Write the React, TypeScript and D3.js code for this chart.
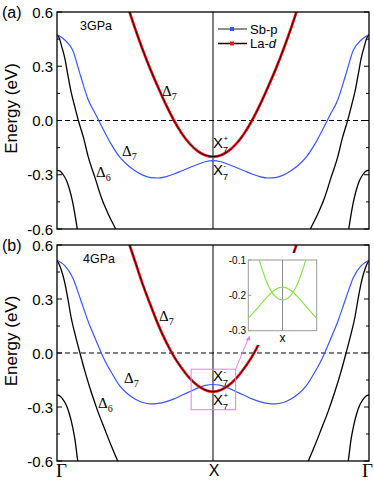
import React from "react";
import * as d3 from "d3";

// k runs Γ(0) -> X(1) -> Γ(2); bands are symmetric about X, so only the Γ–X half is listed
const kBlue = [0, 0.05, 0.1, 0.15, 0.2, 0.25, 0.3, 0.35, 0.4, 0.45, 0.5, 0.55, 0.6, 0.65, 0.7, 0.75, 0.8, 0.85, 0.9, 0.95, 1.0];
const blueA = [0.475, 0.445, 0.39, 0.25, 0.115, 0.03, -0.055, -0.135, -0.2, -0.245, -0.278, -0.302, -0.316, -0.318, -0.31, -0.296, -0.278, -0.26, -0.243, -0.228, -0.222];
const blueB = [0.515, 0.485, 0.42, 0.3, 0.175, 0.07, -0.03, -0.11, -0.18, -0.225, -0.255, -0.275, -0.283, -0.28, -0.27, -0.255, -0.235, -0.215, -0.195, -0.18, -0.175];

// La-d band: distance from X
const dRed = [0, 0.05, 0.1, 0.15, 0.2, 0.25, 0.3, 0.35, 0.4, 0.45, 0.5, 0.55];
const redA = [-0.2, -0.192, -0.168, -0.128, -0.072, 0, 0.085, 0.18, 0.28, 0.39, 0.51, 0.64];
const redB = [-0.215, -0.205, -0.18, -0.14, -0.085, -0.02, 0.06, 0.155, 0.265, 0.38, 0.51, 0.64];

// Δ6 and lower band, from Γ
const kUpA = [0, 0.015, 0.03, 0.05, 0.07, 0.09, 0.11, 0.137, 0.17, 0.2, 0.245, 0.286, 0.33, 0.376, 0.4];
const upA = [0.473, 0.455, 0.41, 0.345, 0.25, 0.16, 0.09, 0, -0.095, -0.2, -0.32, -0.43, -0.52, -0.6, -0.645];
const kUpB = [0, 0.015, 0.035, 0.05, 0.07, 0.09, 0.12, 0.147, 0.18, 0.222, 0.26, 0.308, 0.35, 0.389, 0.41];
const upB = [0.515, 0.49, 0.44, 0.39, 0.3, 0.2, 0.09, 0, -0.105, -0.224, -0.32, -0.428, -0.52, -0.6, -0.64];
const kLowA = [0, 0.02, 0.04, 0.06, 0.08, 0.1, 0.115, 0.13, 0.14];
const lowA = [-0.274, -0.28, -0.3, -0.33, -0.38, -0.45, -0.52, -0.6, -0.66];
const kLowB = [0, 0.02, 0.04, 0.06, 0.08, 0.1, 0.115, 0.133, 0.14];
const lowB = [-0.233, -0.24, -0.26, -0.29, -0.34, -0.41, -0.48, -0.6, -0.64];

// inset (zoom around X, panel b)
const kInset = [-1, -0.75, -0.5, -0.25, 0, 0.25, 0.5, 0.75, 1];
const humpInset = [-0.265, -0.238, -0.21, -0.186, -0.177, -0.186, -0.21, -0.238, -0.265];
const kPara = [-0.75, -0.6, -0.45, -0.3, -0.15, 0, 0.15, 0.3, 0.45, 0.6, 0.75];
const paraInset = [-0.075, -0.125, -0.165, -0.193, -0.208, -0.213, -0.208, -0.193, -0.165, -0.125, -0.075];

const majorTicks = [-0.6, -0.3, 0, 0.3, 0.6];
const minorTicks = [-0.45, -0.15, 0.15, 0.45];
const insetTicks = [-0.1, -0.2, -0.3];

const W = 374, H = 483;
const X0 = 57, X1 = 369;
const sans = "'Liberation Sans', Arial, sans-serif";
const serif = "'Liberation Serif', 'Times New Roman', serif";

const x = d3.scaleLinear().domain([0, 2]).range([X0, X1]);

type P = [number, number];
const both = (ks: number[], es: number[]): P[] => {
  const left = ks.map((k, i) => [k, es[i]] as P);
  const right = ks.slice(0, -1).map((k, i) => [2 - k, es[i]] as P).reverse();
  return [...left, ...right];
};
const fromGamma = (ks: number[], es: number[]): P[][] => [
  ks.map((k, i) => [k, es[i]] as P),
  ks.map((k, i) => [2 - k, es[i]] as P).reverse(),
];
const aroundX = (ds: number[], es: number[]): P[] => [
  ...ds.map((d, i) => [1 - d, es[i]] as P).reverse().slice(0, -1),
  ...ds.map((d, i) => [1 + d, es[i]] as P),
];

function Panel({ top, bottom, id, blue, red, up, kUp, low, kLow }: any) {
  const y = d3.scaleLinear().domain([-0.6, 0.6]).range([bottom, top]);
  const line = d3.line<P>().x((p) => x(p[0])).y((p) => y(p[1])).curve(d3.curveMonotoneX);
  const blacks = [...fromGamma(kUp, up), ...fromGamma(kLow, low)];
  return (
    <g>
      <defs>
        <clipPath id={id}>
          <rect x={X0} y={top} width={X1 - X0} height={bottom - top} />
        </clipPath>
      </defs>
      <line x1={X0} x2={X1} y1={y(0)} y2={y(0)} stroke="#000" strokeWidth={1} strokeDasharray="5,3" />
      <line x1={x(1)} x2={x(1)} y1={top} y2={bottom} stroke="#000" strokeWidth={1} />
      <g clipPath={`url(#${id})`} fill="none">
        {blacks.map((pts, i) => (
          <path key={i} d={line(pts)!} stroke="#000" strokeWidth={1.3} />
        ))}
        <path d={line(both(kBlue, blue))!} stroke="#3a55ff" strokeWidth={1.2} />
        <path d={line(aroundX(dRed, red))!} stroke="#e41a1a" strokeWidth={2.7} />
        <path d={line(aroundX(dRed, red))!} stroke="#200000" strokeWidth={1} />
      </g>
      <rect x={X0} y={top} width={X1 - X0} height={bottom - top} fill="none" stroke="#000" strokeWidth={1.3} />
      {majorTicks.map((t) => (
        <g key={t}>
          <line x1={X0} x2={X0 + 5} y1={y(t)} y2={y(t)} stroke="#000" />
          <line x1={X1} x2={X1 - 5} y1={y(t)} y2={y(t)} stroke="#000" />
          <text x={53} y={y(t) + 5.5} textAnchor="end" fontSize={15} fontFamily={sans}>
            {t.toFixed(1)}
          </text>
        </g>
      ))}
      {minorTicks.map((t) => (
        <g key={t}>
          <line x1={X0} x2={X0 + 3} y1={y(t)} y2={y(t)} stroke="#000" />
          <line x1={X1} x2={X1 - 3} y1={y(t)} y2={y(t)} stroke="#000" />
        </g>
      ))}
      <text
        transform={`translate(17,${(top + bottom) / 2 - 12}) rotate(-90)`}
        textAnchor="middle"
        fontSize={17}
        fontFamily={sans}
      >
        Energy (eV)
      </text>
    </g>
  );
}

const Delta = ({ x0, y0, sub }: { x0: number; y0: number; sub: string }) => (
  <text x={x0} y={y0} fontFamily={serif} fontSize={15}>
    Δ<tspan fontSize={10} dy={4}>{sub}</tspan>
  </text>
);
// X with a charge on top and the 7 underneath it
const X7 = ({ x0, y0, sup }: { x0: number; y0: number; sup: string }) => (
  <g fontFamily={sans}>
    <text x={x0} y={y0} fontSize={15}>X</text>
    <text x={x0 + 10.5} y={y0 - 7.5} fontSize={8}>{sup}</text>
    <text x={x0 + 10} y={y0 + 5} fontSize={9}>7</text>
  </g>
);

export default function App() {
  const yb = d3.scaleLinear().domain([-0.6, 0.6]).range([461, 245]);
  const xi = d3.scaleLinear().domain([-1, 1]).range([248.3, 316.7]);
  const yi = d3.scaleLinear().domain([-0.3, -0.1]).range([330.7, 260]);
  const iline = d3.line<P>().x((p) => xi(p[0])).y((p) => yi(p[1])).curve(d3.curveMonotoneX);
  const pink = "#dd7fe8";
  const green = "#8fe04e";
  return (
    <div style={{ position: "absolute", left: 0, top: 0 }}>
      <svg width={W} height={H} style={{ display: "block", background: "#fff" }}>
        <Panel top={12} bottom={229} id="ca" blue={blueA} red={redA} up={upA} kUp={kUpA} low={lowA} kLow={kLowA} />
        <Panel top={245} bottom={461} id="cb" blue={blueB} red={redB} up={upB} kUp={kUpB} low={lowB} kLow={kLowB} />

        <text x={2} y={18} fontSize={16} fontFamily={sans}>(a)</text>
        <text x={2} y={251} fontSize={16} fontFamily={sans}>(b)</text>
        <text x={80} y={29.5} fontSize={12.5} fontFamily={sans}>3GPa</text>
        <text x={83} y={263} fontSize={12.5} fontFamily={sans}>4GPa</text>

        {/* legend */}
        <line x1={218} x2={247} y1={29} y2={29} stroke="#444" strokeWidth={1.2} />
        <rect x={230} y={27} width={4} height={4} fill="#3a55ff" />
        <text x={250} y={33.5} fontSize={13} fontFamily={sans}>Sb-p</text>
        <line x1={218} x2={247} y1={43.5} y2={43.5} stroke="#200000" strokeWidth={1.5} />
        <rect x={230} y={41.5} width={4} height={4} fill="#e41a1a" />
        <text x={250} y={48} fontSize={13} fontFamily={sans}>
          La-<tspan fontStyle="italic">d</tspan>
        </text>

        <Delta x0={162} y0={96} sub="7" />
        <Delta x0={122} y0={156} sub="7" />
        <Delta x0={96} y0={177} sub="6" />
        <X7 x0={213} y0={148} sup="+" />
        <X7 x0={213} y0={175} sup="-" />

        <Delta x0={159} y0={321} sub="7" />
        <Delta x0={124} y0={383} sub="7" />
        <Delta x0={98} y0={408} sub="6" />
        <X7 x0={213} y0={381} sup="-" />
        <X7 x0={213} y0={405} sup="+" />

        {/* inset */}
        <rect x={226} y={253} width={95} height={92} fill="#fff" />
        <rect x={xi(-1)} y={yi(-0.1)} width={xi(1) - xi(-1)} height={yi(-0.3) - yi(-0.1)} fill="none" stroke="#9a9a9a" strokeWidth={1} />
        <line x1={xi(0)} x2={xi(0)} y1={yi(-0.1)} y2={yi(-0.3)} stroke="#8a8a8a" strokeWidth={1} />
        <defs>
          <clipPath id="ci">
            <rect x={xi(-1)} y={yi(-0.1)} width={xi(1) - xi(-1)} height={yi(-0.3) - yi(-0.1)} />
          </clipPath>
        </defs>
        <g clipPath="url(#ci)" fill="none">
          <path d={iline(kInset.map((k, i) => [k, humpInset[i]] as P))!} stroke={green} strokeWidth={1.2} />
          <path d={iline(kPara.map((k, i) => [k, paraInset[i]] as P))!} stroke={green} strokeWidth={1.2} />
        </g>
        {insetTicks.map((t) => (
          <g key={t}>
            <line x1={xi(-1)} x2={xi(-1) + 3} y1={yi(t)} y2={yi(t)} stroke="#9a9a9a" />
            <text x={246} y={yi(t) + 3.5} textAnchor="end" fontSize={10} fontFamily={sans}>
              {t.toFixed(1)}
            </text>
          </g>
        ))}
        <text x={xi(0)} y={342} textAnchor="middle" fontSize={12} fontFamily={sans}>x</text>

        {/* magnifier box and pointer */}
        <rect x={x(0.86)} y={yb(-0.09)} width={x(1.145) - x(0.86)} height={yb(-0.315) - yb(-0.09)} fill="none" stroke={pink} strokeWidth={1} />
        <line x1={x(1.145)} y1={yb(-0.09)} x2={248.5} y2={338} stroke={pink} strokeWidth={1} />
        <path d="M249.5,335.5 L246,340 L250.5,340.5 Z" fill={pink} />

        {/* bottom labels */}
        <text x={56} y={476.5} fontSize={19} fontFamily={serif}>Γ</text>
        <text x={x(1) + 1} y={476} textAnchor="middle" fontSize={16} fontFamily={sans}>X</text>
        <text x={373} y={476.5} textAnchor="end" fontSize={19} fontFamily={serif}>Γ</text>
      </svg>
    </div>
  );
}
